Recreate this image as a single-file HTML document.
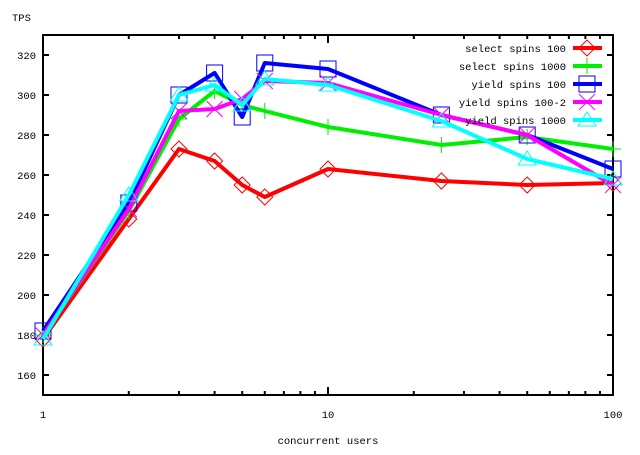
<!DOCTYPE html>
<html><head><meta charset="utf-8"><style>
html,body{margin:0;padding:0;background:#fff;}
svg text{font-family:"Liberation Mono",monospace;font-size:10.5px;}
</style></head><body>
<svg id="c" width="640" height="450" xmlns="http://www.w3.org/2000/svg"></svg>
<script>
const s=document.getElementById('c');
const X=u=>43+Math.log10(u)*285;
const Y=v=>375-(v-160)*2;
let h='';
h+='<rect x="43" y="35" width="570" height="360" fill="none" stroke="#000" stroke-width="2"/>';
for(let v=160;v<=320;v+=20){const y=Y(v);h+=`<line x1="43" x2="49" y1="${y}" y2="${y}" stroke="#000" stroke-width="2"/><line x1="607" x2="613" y1="${y}" y2="${y}" stroke="#000" stroke-width="2"/><text x="36" y="${y+4}" text-anchor="end">${v}</text>`;}
for(let d=1;d<=10;d*=10)for(let k=2;k<=10;k++){const x=X(d*k);const L=k==10?8:4;h+=`<line x1="${x}" x2="${x}" y1="395" y2="${395-L}" stroke="#000" stroke-width="2"/><line x1="${x}" x2="${x}" y1="35" y2="${35+L}" stroke="#000" stroke-width="2"/>`;}
h+=`<text x="43" y="418" text-anchor="middle">1</text><text x="328" y="418" text-anchor="middle">10</text><text x="613" y="418" text-anchor="middle">100</text>`;
h+=`<text x="328" y="444" text-anchor="middle">concurrent users</text><text x="12" y="21">TPS</text>`;
const us=[1,2,3,4,5,6,10,25,50,100];
const S=[
['select spins 100','#ff0000','d',[178,238,273,267,255,249,263,257,255,256]],
['select spins 1000','#00ee00','p',[180,242,288,302,295,292,284,275,279,273]],
['yield spins 100','#0000ff','s',[182,246,300,311,289,316,313,290,280,263]],
['yield spins 100-2','#ff00ff','x',[180,243,292,293,298,307,306,290,280,255]],
['yield spins 1000','#00ffff','t',[178,250,300,305,295,308,305,287,268,258]]];
function mk(t,c,x,y){const r=8;
if(t=='d')return `<polygon points="${x},${y-r} ${x+r},${y} ${x},${y+r} ${x-r},${y}" fill="none" stroke="${c}"/>`;
if(t=='p')return `<path d="M${x-r} ${y}H${x+r}M${x} ${y-r}V${y+r}" stroke="${c}"/>`;
if(t=='s')return `<rect x="${x-r}" y="${y-r}" width="${2*r}" height="${2*r}" fill="none" stroke="${c}"/>`;
if(t=='x')return `<path d="M${x-r} ${y-r}L${x+r} ${y+r}M${x-r} ${y+r}L${x+r} ${y-r}" stroke="${c}"/>`;
return `<polygon points="${x},${y-r} ${x+r+1},${y+r-2} ${x-r-1},${y+r-2}" fill="none" stroke="${c}"/>`;}
S.forEach((q,i)=>{
const pts=us.map((u,j)=>[X(u),Y(q[3][j])]);
h+=`<polyline points="${pts.map(p=>p.join(',')).join(' ')}" fill="none" stroke="${q[1]}" stroke-width="4" stroke-linejoin="round"/>`;
pts.forEach(p=>h+=mk(q[2],q[1],p[0],p[1]));
const ly=48+i*18;
h+=`<text x="566" y="${ly+4}" text-anchor="end">${q[0]}</text><line x1="573" x2="602" y1="${ly}" y2="${ly}" stroke="${q[1]}" stroke-width="4"/>`+mk(q[2],q[1],587,ly);
});
s.innerHTML=h;
</script>
</body></html>
